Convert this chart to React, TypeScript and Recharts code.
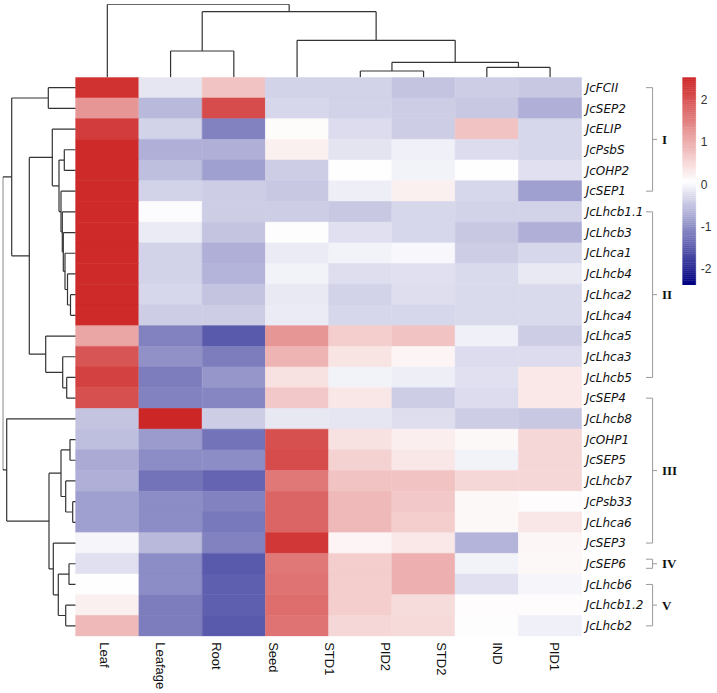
import React from "react";
import { ComposedChart, XAxis, YAxis, Bar, Cell, Line } from "recharts";

// ---------------- data ----------------
const sampleLabels = ["Leaf", "Leafage", "Root", "Seed", "STD1", "PID2", "STD2", "IND", "PID1"];
const heatColumnIds = [0, 1, 2, 3, 4, 5, 6, 7];

const geneLabels = [
  "JcFCII", "JcSEP2", "JcELIP", "JcPsbS", "JcOHP2", "JcSEP1",
  "JcLhcb1.1", "JcLhcb3", "JcLhca1", "JcLhcb4", "JcLhca2", "JcLhca4", "JcLhca5", "JcLhca3", "JcLhcb5",
  "JcSEP4", "JcLhcb8", "JcOHP1", "JcSEP5", "JcLhcb7", "JcPsb33", "JcLhca6", "JcSEP3",
  "JcSEP6", "JcLhcb6", "JcLhcb1.2", "JcLhcb2",
];

// z-scores, one row per gene, 8 heatmap columns
const zScores: number[][] = [
  [2.40, -0.17, 0.76, -0.36, -0.36, -0.50, -0.41, -0.46],
  [1.27, -0.60, 2.12, -0.31, -0.36, -0.41, -0.46, -0.70],
  [2.29, -0.36, -1.13, 0.12, -0.26, -0.41, 0.76, -0.31],
  [2.50, -0.70, -0.70, 0.25, -0.19, -0.07, -0.26, -0.31],
  [2.50, -0.55, -0.84, -0.41, 0.07, -0.05, 0.07, -0.22],
  [2.50, -0.36, -0.41, -0.46, -0.09, 0.25, -0.31, -0.84],
  [2.50, 0.05, -0.41, -0.41, -0.46, -0.31, -0.36, -0.36],
  [2.50, -0.12, -0.50, 0.06, -0.22, -0.31, -0.46, -0.70],
  [2.50, -0.36, -0.70, -0.12, -0.05, 0.01, -0.41, -0.31],
  [2.50, -0.36, -0.65, -0.05, -0.24, -0.22, -0.28, -0.14],
  [2.50, -0.31, -0.50, -0.14, -0.36, -0.24, -0.28, -0.28],
  [2.50, -0.41, -0.41, -0.12, -0.31, -0.31, -0.28, -0.28],
  [1.10, -1.13, -1.52, 1.27, 0.64, 0.76, -0.07, -0.41],
  [2.01, -0.99, -1.18, 0.93, 0.38, 0.19, -0.26, -0.26],
  [2.23, -1.18, -0.94, 0.42, -0.05, -0.09, -0.22, 0.34],
  [2.06, -1.13, -1.09, 0.70, 0.36, -0.41, -0.26, 0.34],
  [-0.50, 2.54, -0.41, -0.15, -0.17, -0.24, -0.41, -0.46],
  [-0.55, -0.89, -1.28, 2.06, 0.42, 0.27, 0.15, 0.53],
  [-0.75, -1.04, -1.04, 2.12, 0.59, 0.36, -0.05, 0.53],
  [-0.70, -1.28, -1.42, 1.61, 0.76, 0.76, 0.53, 0.53],
  [-0.84, -1.04, -1.13, 1.84, 0.87, 0.70, 0.15, 0.11],
  [-0.84, -1.04, -1.23, 1.84, 0.87, 0.64, 0.15, 0.36],
  [-0.02, -0.60, -1.13, 2.35, 0.19, 0.34, -0.65, 0.18],
  [-0.22, -1.04, -1.52, 1.61, 0.64, 0.98, -0.05, 0.15],
  [0.07, -1.04, -1.47, 1.67, 0.64, 0.98, -0.22, -0.02],
  [0.25, -1.18, -1.47, 1.72, 0.64, 0.47, 0.11, 0.11],
  [0.87, -1.18, -1.52, 1.67, 0.53, 0.50, 0.06, -0.07],
];

// hclust-style merges: negative = leaf -(index+1), positive = earlier merge (1-based); third = height
const rowMerges: [number, number, number][] = [
  [-11, -12, 5.2], [-21, -22, 3.0], [-18, -19, 5.7], [-24, -25, 6.7], [-10, 1, 8.2],
  [-15, -16, 9.0], [-20, 2, 10.0], [-26, -27, 10.0], [-9, 5, 10.7], [-4, -5, 11.4],
  [-8, 9, 12.4], [-14, 6, 13.0], [-7, 11, 13.4], [-6, 13, 14.7], [3, 7, 14.7],
  [10, 14, 16.7], [4, 8, 17.4], [-23, 17, 22.4], [-3, 16, 23.4], [15, 18, 26.7],
  [-1, -2, 27.4], [-13, 12, 30.0], [19, 22, 46.4], [21, 23, 64.0], [-17, 20, 69.0],
  [24, 25, 73.0],
];
const colMerges: [number, number, number][] = [
  [-5, -6, 6.3], [-7, -8, 10.0], [1, 2, 15.0], [-2, -3, 26.3], [-4, 3, 37.0], [4, 5, 65.6], [-1, 6, 73.0],
];

const groupLabels = ["I", "II", "III", "IV", "V"];
const groupStartRow = [0, 6, 15, 23, 24];
const groupEndRow = [5, 14, 22, 23, 26];

const colorMin = -2.39;
const colorMax = 2.54;
const legendTicks = [-2, -1, 0, 1, 2];

// ---------------- layout ----------------
const W = 717;
const H = 693;
const HM = { left: 75.7, top: 77.3, right: 581.7, bottom: 636.2 };
const LINE = "#333333";

const lerp = (a: number, b: number, t: number) => a + (b - a) * t;
function colorFor(v: number) {
  const t = Math.max(0, Math.min(1, (v - colorMin) / (colorMax - colorMin)));
  let c: number[];
  if (t < 0.5) {
    const s = t / 0.5;
    c = [lerp(0, 255, s), lerp(0, 255, s), lerp(128, 255, s)];
  } else {
    const q = (t - 0.5) / 0.5;
    c = [lerp(255, 205, q), lerp(255, 38, q), lerp(255, 38, q)];
  }
  return `rgb(${c.map((x) => Math.round(x)).join(",")})`;
}

type Pt = { x: number; y: number };
// segments in (position, height) space
function dendroSegments(merges: [number, number, number][]) {
  const pos: number[] = [];
  const hgt: number[] = [];
  const segs: { p1: number; h1: number; p2: number; h2: number }[] = [];
  const get = (id: number) => (id < 0 ? { p: -id - 1 + 0.5, h: 0 } : { p: pos[id - 1], h: hgt[id - 1] });
  merges.forEach(([a, b, h], i) => {
    const A = get(a);
    const B = get(b);
    segs.push({ p1: A.p, h1: A.h, p2: A.p, h2: h });
    segs.push({ p1: B.p, h1: B.h, p2: B.p, h2: h });
    segs.push({ p1: A.p, h1: h, p2: B.p, h2: h });
    pos[i] = (A.p + B.p) / 2;
    hgt[i] = h;
  });
  return segs;
}
const rowSegs: Pt[][] = dendroSegments(rowMerges).map((s) => [{ x: s.h1, y: s.p1 }, { x: s.h2, y: s.p2 }]);
const colSegs: Pt[][] = dendroSegments(colMerges).map((s) => [{ x: s.p1, y: s.h1 }, { x: s.p2, y: s.h2 }]);
const rowRootH = rowMerges[rowMerges.length - 1][2];
const colRootH = colMerges[colMerges.length - 1][2];

// heatmap table for stacked bars: one entry per column, one unit per gene row
const heatTable = heatColumnIds.map((c) => {
  const o: Record<string, number> = { col: c };
  geneLabels.forEach((_, r) => (o[`r${r}`] = 1));
  return o;
});
const labelTable = sampleLabels.map((name) => ({ name, v: 0 }));

const rowTicks = geneLabels.map((_, i) => i + 0.5);
const groupTicks = groupLabels.map((_, g) => (groupStartRow[g] + groupEndRow[g] + 1) / 2);

const bracketSegs: Pt[][] = groupLabels.flatMap((_, i) => {
  const single = groupStartRow[i] === groupEndRow[i];
  const top = single ? groupStartRow[i] + 0.28 : groupStartRow[i] + 0.5;
  const bot = single ? groupEndRow[i] + 0.72 : groupEndRow[i] + 0.5;
  const mid = groupTicks[i];
  return [
    [{ x: 0, y: top }, { x: 0.6, y: top }, { x: 0.6, y: bot }, { x: 0, y: bot }],
    [{ x: 0.6, y: mid }, { x: 1, y: mid }],
  ];
});

const legendSteps = 100;
const legendStep = (colorMax - colorMin) / legendSteps;
const legendTable = [
  (() => {
    const o: Record<string, number> = { k: 0 };
    for (let i = 0; i < legendSteps; i++) o[`s${i}`] = legendStep;
    return o;
  })(),
];

const RowTick = (p: any) => (
  <text x={p.x} y={p.y} dy="0.35em" textAnchor="start" fontFamily="'DejaVu Sans', sans-serif"
    fontStyle="italic" fontSize={12} fill="#111">
    {geneLabels[Math.round(p.payload.value - 0.5)]}
  </text>
);
const ColTick = (p: any) => (
  <text x={p.x} y={p.y} dy="0.3em" textAnchor="start" transform={`rotate(90, ${p.x}, ${p.y})`}
    fontFamily="'Liberation Sans', Arial, sans-serif" fontSize={13} fill="#111">
    {p.payload.value}
  </text>
);
const GroupTick = (p: any) => {
  const idx = groupTicks.findIndex((t) => Math.abs(t - p.payload.value) < 1e-6);
  return (
    <text x={p.x} y={p.y} dy="0.35em" textAnchor="start" fontFamily="'Liberation Serif', serif"
      fontWeight="bold" fontSize={13} fill="#111">
      {groupLabels[idx]}
    </text>
  );
};
const LegendTick = (p: any) => (
  <text x={p.x} y={p.y} dy="0.35em" textAnchor="start" fontFamily="'Liberation Sans', Arial, sans-serif"
    fontSize={12} fill="#333">
    {p.payload.value}
  </text>
);

const layer: React.CSSProperties = { position: "absolute", left: 0, top: 0, width: W, height: H };

export default function App() {
  return (
    <div style={{ position: "absolute", left: 0, top: 0, width: W, height: H, background: "#fff" }}>
      {/* heatmap cells + gene labels */}
      <div style={layer}>
        <ComposedChart width={W} height={H} data={heatTable} barCategoryGap={0} barGap={0}
          margin={{ top: HM.top, left: HM.left, right: W - HM.right - 60, bottom: H - HM.bottom }}>
          <XAxis dataKey="col" type="category" hide />
          <YAxis type="number" domain={[0, geneLabels.length]} reversed orientation="right"
            width={60} ticks={rowTicks} interval={0} axisLine={false} tickLine={false} tickSize={0}
            tickMargin={4} tick={<RowTick />} allowDataOverflow />
          {geneLabels.map((g, r) => (
            <Bar key={g} dataKey={`r${r}`} stackId="hm" isAnimationActive={false}>
              {heatColumnIds.map((c) => (
                <Cell key={c} fill={colorFor(zScores[r][c])} stroke={colorFor(zScores[r][c])} strokeWidth={0.6} />
              ))}
            </Bar>
          ))}
        </ComposedChart>
      </div>

      {/* sample labels */}
      <div style={layer}>
        <ComposedChart width={W} height={H} data={labelTable}
          margin={{ top: HM.top, left: HM.left, right: W - HM.right, bottom: H - HM.bottom - 56 }}>
          <XAxis dataKey="name" type="category" height={56} interval={0} axisLine={false} tickLine={false}
            tickSize={0} tickMargin={6} tick={<ColTick />} />
          <YAxis type="number" domain={[0, 1]} hide />
          <Bar dataKey="v" fill="none" isAnimationActive={false} />
        </ComposedChart>
      </div>

      {/* row dendrogram */}
      <div style={layer}>
        <ComposedChart width={W} height={H}
          margin={{ top: HM.top, left: 2.7, right: W - HM.left, bottom: H - HM.bottom }}>
          <XAxis dataKey="x" type="number" domain={[0, rowRootH]} reversed hide allowDataOverflow />
          <YAxis type="number" domain={[0, geneLabels.length]} reversed hide allowDataOverflow />
          {rowSegs.map((d, i) => (
            <Line key={`r${i}`} data={d} dataKey="y" type="linear" stroke={LINE} strokeWidth={1.2}
              dot={false} activeDot={false} isAnimationActive={false} />
          ))}
        </ComposedChart>
      </div>

      {/* column dendrogram */}
      <div style={layer}>
        <ComposedChart width={W} height={H}
          margin={{ top: 4.3, left: HM.left, right: W - HM.right, bottom: H - HM.top }}>
          <XAxis dataKey="x" type="number" domain={[0, heatColumnIds.length]} hide allowDataOverflow />
          <YAxis type="number" domain={[0, colRootH]} hide allowDataOverflow />
          {colSegs.map((d, i) => (
            <Line key={`c${i}`} data={d} dataKey="y" type="linear" stroke={LINE} strokeWidth={1.2}
              dot={false} activeDot={false} isAnimationActive={false} />
          ))}
        </ComposedChart>
      </div>

      {/* group brackets */}
      <div style={layer}>
        <ComposedChart width={W} height={H}
          margin={{ top: HM.top, left: 646, right: W - 657 - 45, bottom: H - HM.bottom }}>
          <XAxis dataKey="x" type="number" domain={[0, 1]} hide allowDataOverflow />
          <YAxis type="number" domain={[0, geneLabels.length]} reversed orientation="right"
            width={45} ticks={groupTicks} interval={0} axisLine={false} tickLine={false} tickSize={0}
            tickMargin={5} tick={<GroupTick />} allowDataOverflow />
          {bracketSegs.map((d, i) => (
            <Line key={`b${i}`} data={d} dataKey="y" type="linear" stroke="#9a9a9a" strokeWidth={1}
              dot={false} activeDot={false} isAnimationActive={false} />
          ))}
        </ComposedChart>
      </div>

      {/* colour legend */}
      <div style={layer}>
        <ComposedChart width={W} height={H} data={legendTable} barCategoryGap={0} barGap={0}
          margin={{ top: HM.top, left: 682.7, right: W - 695.7 - 20, bottom: H - 285 }}>
          <XAxis dataKey="k" type="category" hide />
          <YAxis yAxisId="stack" type="number" domain={[0, colorMax - colorMin]} hide allowDataOverflow />
          <YAxis yAxisId="val" type="number" domain={[colorMin, colorMax]} orientation="right" width={20}
            ticks={legendTicks} interval={0} axisLine={false} tickLine={false} tickSize={0} tickMargin={5}
            tick={<LegendTick />} allowDataOverflow />
          {Array.from({ length: legendSteps }, (_, k) => {
            const col = colorFor(colorMin + (k + 0.5) * legendStep);
            return (
              <Bar key={`s${k}`} yAxisId="stack" dataKey={`s${k}`} stackId="lg" fill={col} stroke={col}
                strokeWidth={0.5} isAnimationActive={false} />
            );
          })}
        </ComposedChart>
      </div>
    </div>
  );
}
